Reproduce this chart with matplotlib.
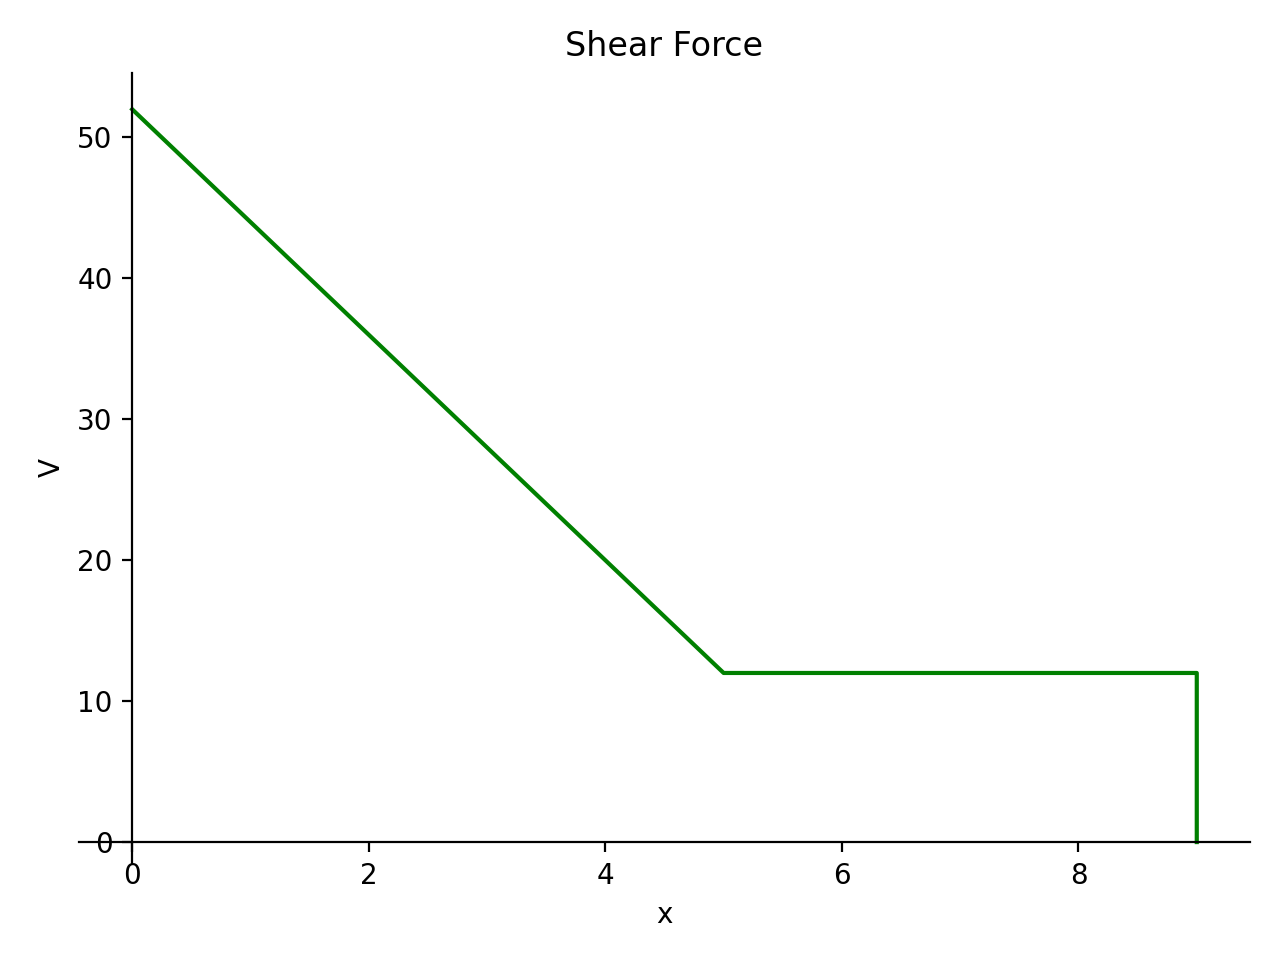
import matplotlib
matplotlib.use("Agg")
import matplotlib.pyplot as plt

# shear force diagram: breakpoints along the beam
x = [0, 5, 9, 9]
V = [52, 12, 12, 0]

fig, ax = plt.subplots(figsize=(6.4, 4.8), dpi=200)
ax.plot(x, V, color="green")

# axes through the origin, like sympy plots
ax.spines["left"].set_position("zero")
ax.spines["bottom"].set_position("zero")
ax.spines["right"].set_color("none")
ax.spines["top"].set_color("none")
ax.xaxis.set_ticks_position("bottom")
ax.yaxis.set_ticks_position("left")

ax.set_xlim(-0.45, 9.45)
ax.set_ylim(-1.5, 54.6)
ax.set_title("Shear Force")
ax.set_xlabel("x")
ax.set_ylabel("V")

fig.tight_layout()
fig.savefig("out.png")
